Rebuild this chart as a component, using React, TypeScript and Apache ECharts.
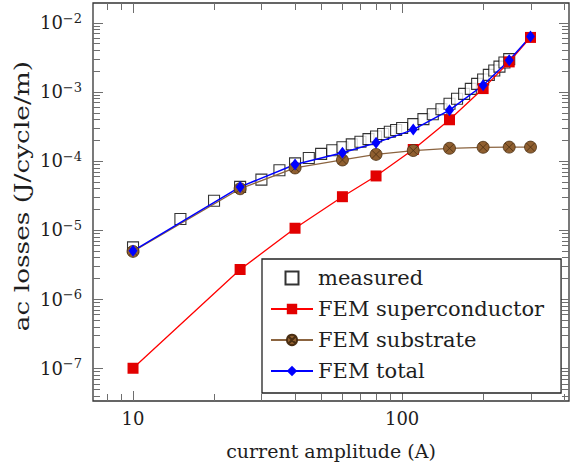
import React, { useEffect, useRef } from "react";
import * as echarts from "echarts";

const FONT = "'DejaVu Serif', 'Liberation Serif', 'Times New Roman', serif";
const TEXT_COLOR = "#1e1e1e";

// measured data (A, J/cycle/m)
const measuredX = [10, 15, 20, 25, 30, 35, 40, 45, 50, 55, 60, 65, 70, 75, 80, 85, 90, 95, 100, 110, 120, 130, 140, 150, 160, 170, 180, 190, 200, 210, 220, 230, 240, 250];
const measuredY = [5.6e-6, 1.44e-5, 2.65e-5, 4.2e-5, 5.36e-5, 7.3e-5, 9.2e-5, 1.1e-4, 1.26e-4, 1.42e-4, 1.57e-4, 1.73e-4, 1.89e-4, 2.06e-4, 2.25e-4, 2.44e-4, 2.63e-4, 2.8e-4, 2.98e-4, 3.4e-4, 4.01e-4, 4.73e-4, 5.58e-4, 6.7e-4, 7.9e-4, 9.32e-4, 1.1e-3, 1.3e-3, 1.5e-3, 1.75e-3, 2.03e-3, 2.31e-3, 2.64e-3, 2.96e-3];

// FEM results
const femX = [10, 25, 40, 60, 80, 110, 150, 200, 250, 300];
const superY = [1.0e-7, 2.68e-6, 1.06e-5, 3.03e-5, 6.05e-5, 1.46e-4, 3.93e-4, 1.11e-3, 2.7e-3, 6.1e-3];
const substrateY = [4.9e-6, 3.95e-5, 7.9e-5, 1.03e-4, 1.24e-4, 1.41e-4, 1.52e-4, 1.57e-4, 1.58e-4, 1.58e-4];
const totalY = [5.0e-6, 4.2e-5, 8.87e-5, 1.31e-4, 1.82e-4, 2.83e-4, 5.41e-4, 1.24e-3, 2.85e-3, 6.3e-3];

// axis ticks
const xMajorTicks = [10, 100];
const xMinorTicks = [8, 9, 20, 30, 40, 50, 60, 70, 80, 90, 200, 300, 400];
const yMajorTicks = [1e-7, 1e-6, 1e-5, 1e-4, 1e-3, 1e-2];
const yMinorMantissas = [2, 3, 4, 5, 6, 7, 8, 9];
const yMinorDecades = [1e-8, 1e-7, 1e-6, 1e-5, 1e-4, 1e-3];

const X_MIN = 7.1;
const X_MAX = 417;
const Y_MIN = 3.36e-8;
const Y_MAX = 0.0192;

const xTitle = "current amplitude (A)";
const yTitle = "ac losses (J/cycle/m)";
const legendNames = ["measured", "FEM superconductor", "FEM substrate", "FEM total"];

const OTIMES =
  "path://M10,0A10,10,0,1,1,9.99,0ZM2.93,2.93L17.07,17.07M17.07,2.93L2.93,17.07";

function isPow10(v: number) {
  const l = Math.log10(v);
  return Math.abs(l - Math.round(l)) < 1e-6;
}

export default function App() {
  const ref = useRef<HTMLDivElement>(null);
  useEffect(() => {
    if (!ref.current) return;
    const chart = echarts.init(ref.current, undefined, { renderer: "svg" });
    const yMinorTicks: number[] = [];
    yMinorDecades.forEach((d) =>
      yMinorMantissas.forEach((m) => {
        const v = m * d;
        if (v > Y_MIN && v < Y_MAX) yMinorTicks.push(v);
      })
    );
    const tickStyle = { stroke: "#6e6e6e", lineWidth: 1 };
    const option: any = {
      animation: false,
      textStyle: { fontFamily: FONT },
      grid: {
        left: 93,
        right: -1,
        top: 3,
        bottom: 61,
        show: true,
        borderColor: "#333",
        borderWidth: 1.3,
        backgroundColor: "transparent",
      },
      graphic: [
        {
          type: "text",
          x: 22,
          y: 196,
          rotation: Math.PI / 2,
          scaleX: 1.32,
          silent: true,
          style: {
            text: yTitle,
            font: `20px ${FONT}`,
            fill: TEXT_COLOR,
            align: "center",
            verticalAlign: "middle",
          },
        },
      ],
      xAxis: {
        type: "log",
        logBase: 10,
        min: X_MIN,
        max: X_MAX,
        axisLine: { show: false },
        axisTick: { show: false },
        minorTick: { show: false },
        splitLine: { show: false },
        axisLabel: {
          margin: 8,
          fontFamily: FONT,
          fontSize: 18,
          color: TEXT_COLOR,
          formatter: (v: number) => (isPow10(v) ? String(Math.round(v)) : ""),
        },
        name: xTitle,
        nameLocation: "middle",
        nameGap: 40,
        nameTextStyle: { fontFamily: FONT, fontSize: 19, color: TEXT_COLOR },
      },
      yAxis: {
        type: "log",
        logBase: 10,
        min: Y_MIN,
        max: Y_MAX,
        axisLine: { show: false },
        axisTick: { show: false },
        minorTick: { show: false },
        splitLine: { show: false },
        axisLabel: {
          margin: 11,
          color: TEXT_COLOR,
          fontFamily: FONT,
          formatter: (v: number) => {
            if (!isPow10(v)) return "";
            const e = Math.round(Math.log10(v));
            return `{b|10}{s|${e < 0 ? "\u2212" : ""}${Math.abs(e)}}`;
          },
          rich: {
            b: { fontFamily: FONT, fontSize: 18, color: TEXT_COLOR, lineHeight: 22 },
            s: { fontFamily: FONT, fontSize: 13, color: TEXT_COLOR, verticalAlign: "top", lineHeight: 14 },
          },
        },
      },
      legend: {
        orient: "vertical",
        left: 262,
        top: 259,
        padding: [4, 17, 7, 8],
        itemWidth: 42,
        itemHeight: 13,
        itemGap: 1,
        symbolKeepAspect: true,
        backgroundColor: "#fff",
        borderColor: "#222",
        borderWidth: 1.3,
        borderRadius: 0,
        textStyle: { fontFamily: FONT, fontSize: 21, color: TEXT_COLOR, lineHeight: 30 },
        data: [
          { name: legendNames[0], icon: "path://M0,0L10,0L10,10L0,10Z" },
          { name: legendNames[1] },
          { name: legendNames[2] },
          { name: legendNames[3] },
        ],
      },
      series: [
        {
          name: "ticks",
          type: "custom",
          silent: true,
          clip: false,
          z: 1,
          data: [[10, 1e-4]],
          renderItem: (params: any, api: any) => {
            const cs = params.coordSys;
            const left = cs.x;
            const right = cs.x + cs.width;
            const top = cs.y;
            const bottom = cs.y + cs.height;
            const children: any[] = [];
            const addX = (v: number, len: number) => {
              const px = Math.round(api.coord([v, 1e-4])[0]) + 0.5;
              children.push({ type: "line", shape: { x1: px, y1: bottom, x2: px, y2: bottom - len }, style: tickStyle });
              children.push({ type: "line", shape: { x1: px, y1: top, x2: px, y2: top + len }, style: tickStyle });
            };
            const addY = (v: number, len: number) => {
              const py = Math.round(api.coord([10, v])[1]) + 0.5;
              children.push({ type: "line", shape: { x1: left, y1: py, x2: left + len, y2: py }, style: tickStyle });
              children.push({ type: "line", shape: { x1: right, y1: py, x2: right - len, y2: py }, style: tickStyle });
            };
            xMajorTicks.forEach((v) => addX(v, 10));
            xMinorTicks.forEach((v) => addX(v, 7));
            yMajorTicks.forEach((v) => addY(v, 10));
            yMinorTicks.forEach((v) => addY(v, 7));
            return { type: "group", children };
          },
        },
        {
          name: legendNames[0],
          type: "scatter",
          z: 2,
          symbol: "rect",
          symbolSize: 11,
          itemStyle: { color: "#ffffff", borderColor: "#000", borderWidth: 1.1 },
          data: measuredX.map((x, i) => [x, measuredY[i]]),
        },
        {
          name: legendNames[1],
          type: "line",
          z: 3,
          symbol: "rect",
          symbolSize: 11,
          itemStyle: { color: "#e20000" },
          lineStyle: { color: "#ff0000", width: 1.3 },
          data: femX.map((x, i) => [x, superY[i]]),
        },
        {
          name: legendNames[2],
          type: "line",
          z: 3,
          symbol: OTIMES,
          symbolSize: 12,
          itemStyle: { color: "#8f5f30", borderColor: "#4a2e12", borderWidth: 0.8 },
          lineStyle: { color: "#8b6440", width: 1.3 },
          data: femX.map((x, i) => [x, substrateY[i]]),
        },
        {
          name: legendNames[3],
          type: "line",
          z: 3,
          symbol: "diamond",
          symbolSize: [9, 12],
          itemStyle: { color: "#0000ff" },
          lineStyle: { color: "#0000ff", width: 1.5 },
          data: femX.map((x, i) => [x, totalY[i]]),
        },
      ],
    };
    chart.setOption(option);
    return () => chart.dispose();
  }, []);
  return (
    <div
      ref={ref}
      style={{ position: "absolute", left: 0, top: 0, width: 572, height: 465, background: "#fff" }}
    />
  );
}
